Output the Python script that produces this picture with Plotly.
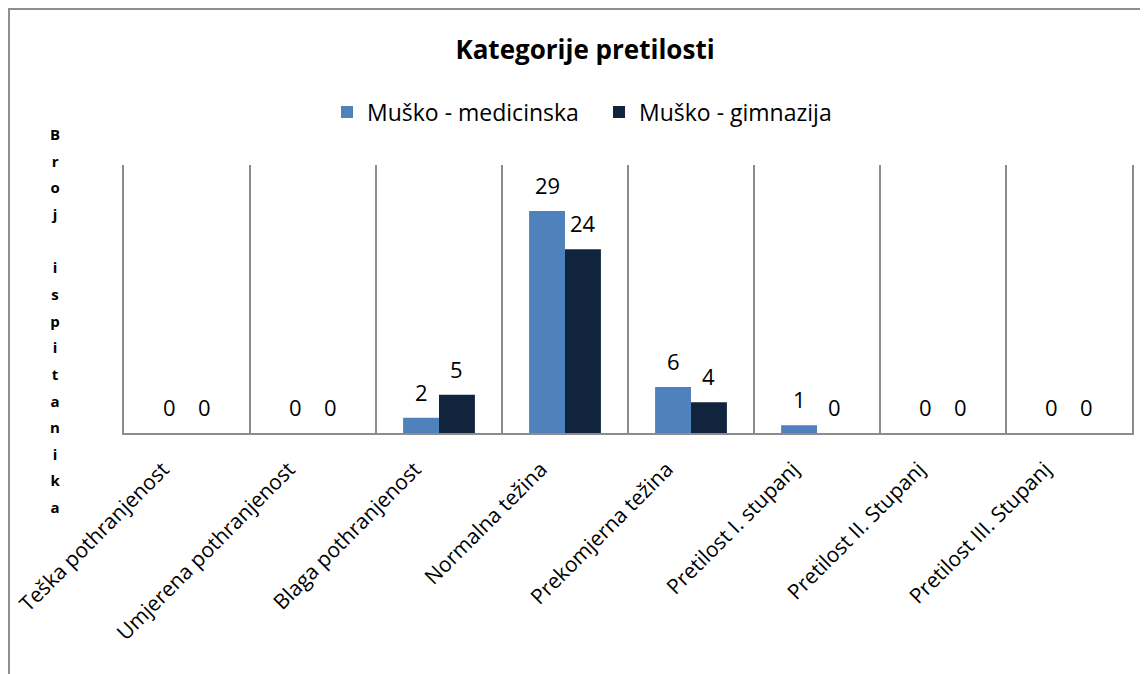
import plotly.graph_objects as go

categories = ["Teška pothranjenost", "Umjerena pothranjenost", "Blaga pothranjenost",
              "Normalna težina", "Prekomjerna težina", "Pretilost I. stupanj",
              "Pretilost II. Stupanj", "Pretilost III. Stupanj"]
medicinska = [0, 0, 2, 29, 6, 1, 0, 0]
gimnazija = [0, 0, 5, 24, 4, 0, 0, 0]
series_names = ["Muško - medicinska", "Muško - gimnazija"]
colors = ["#4F81BD", "#10243E"]
title_text = "Kategorije pretilosti"
y_title = "Broj ispitanika"

FONT = "Open Sans"
W, H = 1140, 666
ML, MR, MT, MB = 116, 16, 157, 241
BARGAP = 0.43
plot_w = W - ML - MR
plot_h = H - MT - MB
bar_w = plot_w / len(categories) * (1 - BARGAP) / 2

fig = go.Figure()
for i, (name, vals, col) in enumerate(zip(series_names, [medicinska, gimnazija], colors)):
    fig.add_trace(go.Bar(x=categories, y=vals, name=name,
                         legend="legend" if i == 0 else "legend2",
                         marker=dict(color=col, line=dict(width=0))))

# data labels above bars
for k, vals in enumerate([medicinska, gimnazija]):
    shift = (k - 0.5) * bar_w
    for c, v in zip(categories, vals):
        fig.add_annotation(x=c, y=v, text=str(v), showarrow=False, xanchor="center",
                           yanchor="bottom", xshift=shift, yshift=9,
                           font=dict(family=FONT, size=22, color="black"))

letters = "<br>".join(("<span style='font-size:15px'><b>%s</b></span>" % c) if c != " " else "\u00a0"
                      for c in y_title)

leg_common = dict(orientation="h", xanchor="left", y=1.198, yanchor="middle",
                  font=dict(family=FONT, size=23, color="black"), bgcolor="rgba(0,0,0,0)")

fig.update_layout(
    width=W, height=H,
    margin=dict(l=ML, r=MR, t=MT, b=MB, autoexpand=False),
    paper_bgcolor="white", plot_bgcolor="white",
    barmode="group", bargap=BARGAP, bargroupgap=0,
    font=dict(family=FONT, color="black"),
    title=dict(text="<b>%s</b>" % title_text, x=577/W, xanchor="center",
               y=1 - 42/H, yanchor="middle", xref="container", yref="container",
               font=dict(family=FONT, size=26, color="black")),
    legend=dict(x=(327 - 8 - ML) / plot_w, **leg_common),
    legend2=dict(x=(599 - 8 - ML) / plot_w, **leg_common),
    xaxis=dict(showline=True, linecolor="#8C8C8C", linewidth=1.5, tickson="boundaries",
               showgrid=True, gridcolor="#8C8C8C", gridwidth=1.5, ticks="", automargin=False,
               tickangle=-45, ticklabelshift=-24, ticklabelstandoff=14,
               tickfont=dict(family=FONT, size=21, color="black")),
    yaxis=dict(range=[0, 35], showline=True, linecolor="#8C8C8C", linewidth=1.5, mirror=True,
               showgrid=False, zeroline=False, showticklabels=False, ticks="", automargin=False),
    showlegend=True,
)
fig.add_annotation(text=letters, xref="paper", yref="paper", x=(47 - ML) / plot_w, y=0.4216,
                   xanchor="center", yanchor="middle", showarrow=False,
                   font=dict(family=FONT, size=20.5, color="black"))
fig.add_shape(type="rect", xref="paper", yref="paper",
              x0=(1 - ML) / plot_w, x1=1.2, y0=-1.2, y1=(plot_h + MT - 1) / plot_h,
              line=dict(color="#8E8E8E", width=2), fillcolor="rgba(0,0,0,0)", layer="below")

fig.write_html("out.html")
